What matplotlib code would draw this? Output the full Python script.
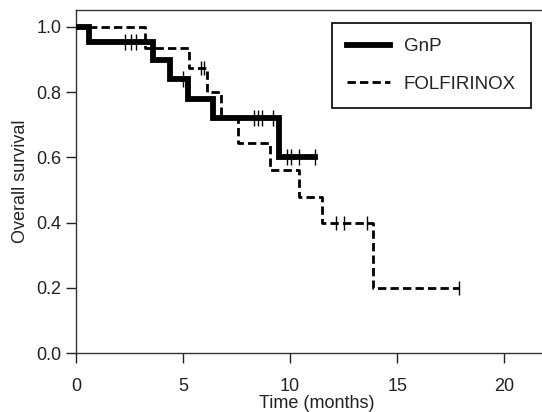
import matplotlib
matplotlib.use("Agg")
import matplotlib.pyplot as plt

plt.rcParams["font.family"] = ["Liberation Sans", "DejaVu Sans"]

# =========================
# DATA
# =========================
# GnP: step times (months) and survival after each step
gnp_times = [0, 0.6, 3.6, 4.4, 5.25, 6.4, 9.5, 11.15]
gnp_surv = [1.0, 0.955, 0.90, 0.84, 0.78, 0.72, 0.60, 0.60]
gnp_cens_t = [2.3, 2.55, 2.8, 5.0, 8.3, 8.5, 8.7, 9.2, 9.85, 10.05, 10.4, 11.15]
gnp_cens_s = [0.955, 0.955, 0.955, 0.84, 0.72, 0.72, 0.72, 0.72, 0.60, 0.60, 0.60, 0.60]

# FOLFIRINOX
ffx_times = [0, 3.2, 5.3, 6.1, 6.75, 7.55, 9.05, 10.4, 11.5, 13.85, 17.9]
ffx_surv = [1.0, 0.937, 0.873, 0.80, 0.725, 0.643, 0.561, 0.48, 0.40, 0.20, 0.20]
ffx_cens_t = [5.85, 6.0, 12.15, 12.5, 13.6, 17.9]
ffx_cens_s = [0.873, 0.873, 0.40, 0.40, 0.40, 0.20]

x_ticks = [0, 5, 10, 15, 20]
y_ticks = [0.0, 0.2, 0.4, 0.6, 0.8, 1.0]

# =========================
# PLOT
# =========================
fig = plt.figure(figsize=(5.42, 4.12), dpi=100)
# right edge of the box runs off the picture, as in the original
ax = fig.add_axes([0.1402, 0.1432, 0.890, 0.8325])

ax.step(ffx_times, ffx_surv, where="post", color="black", lw=2.0,
        linestyle=(0, (3, 1.5)), label="FOLFIRINOX", zorder=2)
ax.plot(ffx_cens_t, ffx_cens_s, linestyle="none", marker="|", ms=10,
        mew=1.0, color="black", zorder=2)

ax.step(gnp_times, gnp_surv, where="post", color="black", lw=4.2,
        solid_joinstyle="miter", label="GnP", zorder=3)
ax.plot(gnp_cens_t, gnp_cens_s, linestyle="none", marker="|", ms=11,
        mew=1.0, color="black", zorder=3)

ax.set_xlim(0, 22.53)
ax.set_ylim(0, 1.052)
ax.set_xticks(x_ticks)
ax.set_yticks(y_ticks)
ax.set_yticklabels([f"{v:.1f}" for v in y_ticks])
ax.tick_params(direction="out", length=7, width=1.0, labelsize=13, colors="#222222")
ax.tick_params(axis="x", pad=11)
for s in ax.spines.values():
    s.set_linewidth(1.0)
    s.set_color("#333333")

ax.set_xlabel("Time (months)", fontsize=13, labelpad=0, color="#222222")
ax.set_ylabel("Overall survival", fontsize=13, labelpad=5, color="#222222")

handles, labels = ax.get_legend_handles_labels()
leg = ax.legend(handles[::-1], labels[::-1], loc="upper right",
                bbox_to_anchor=(0.9797, 0.9442), bbox_transform=fig.transFigure,
                borderaxespad=0, fontsize=13.5, handlelength=2.3,
                handletextpad=0.75, labelspacing=1.1, borderpad=0.8,
                fancybox=False, framealpha=1)
leg.get_frame().set_edgecolor("black")
leg.get_frame().set_linewidth(1.2)
for t in leg.get_texts():
    t.set_color("#222222")

fig.savefig("out.png", dpi=100)
